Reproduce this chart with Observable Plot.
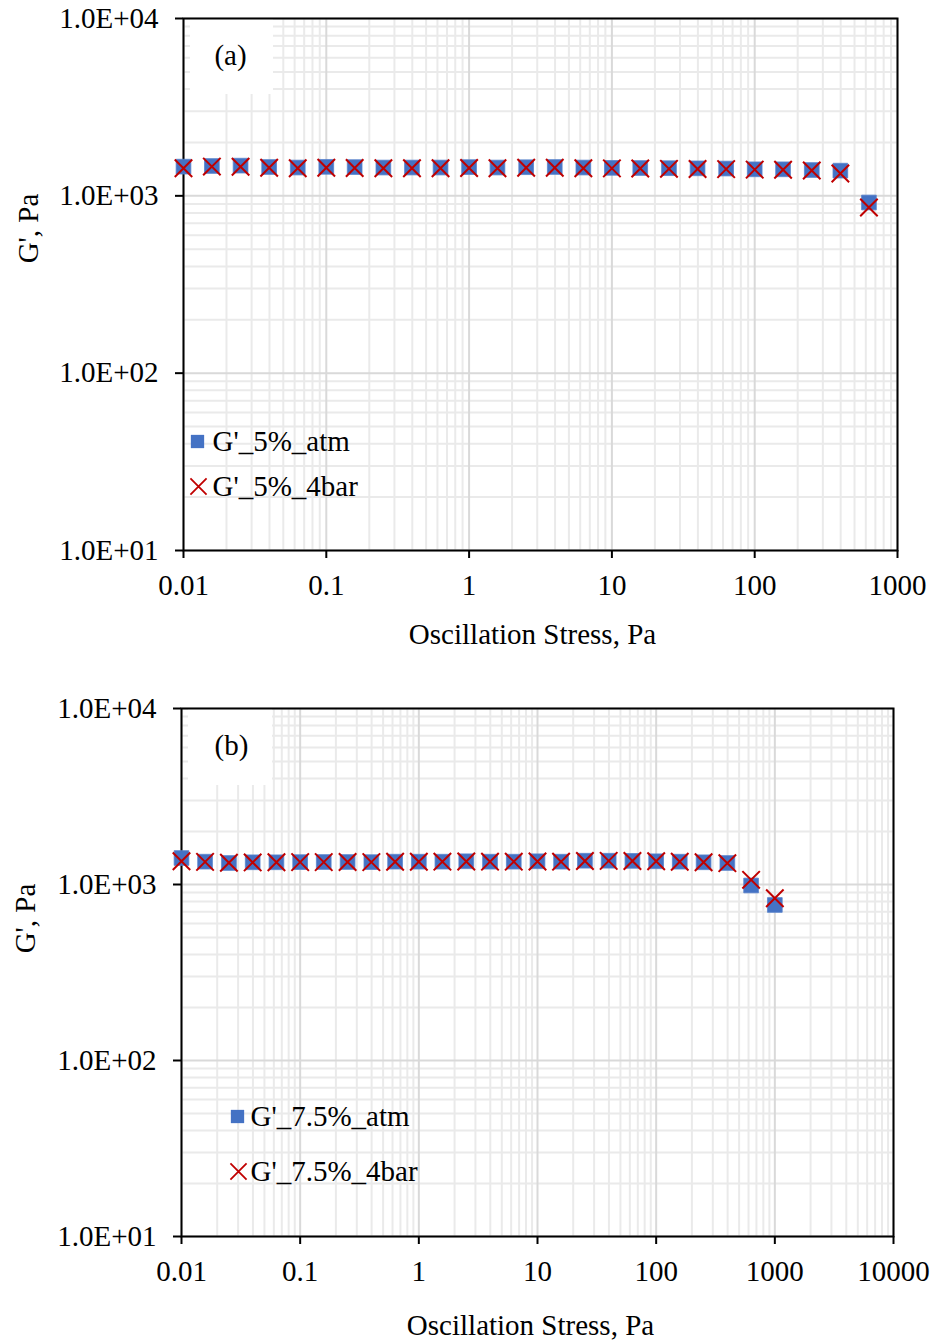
<!DOCTYPE html>
<html>
<head>
<meta charset="utf-8">
<script src="https://cdn.jsdelivr.net/npm/d3@7"></script>
<script src="https://cdn.jsdelivr.net/npm/@observablehq/plot@0.6"></script>
<style>
  html, body { margin: 0; padding: 0; background: white; }
  svg { display: block; }
</style>
</head>
<body>
<div id="chart"></div>
<script>
// ---- Data ----
const stressA = [0.01, 0.0158, 0.0251, 0.0398, 0.0631, 0.1, 0.158, 0.251, 0.398, 0.631, 1, 1.58, 2.51, 3.98, 6.31, 10, 15.8, 25.1, 39.8, 63.1, 100, 158, 251, 398, 631];
const gA_atm  = [1461, 1473, 1480, 1454, 1444, 1457, 1452, 1444, 1444, 1444, 1452, 1444, 1450, 1454, 1444, 1438, 1435, 1432, 1429, 1425, 1411, 1411, 1398, 1387, 917];
const gA_4bar = [1432, 1462, 1460, 1440, 1432, 1440, 1435, 1430, 1432, 1432, 1436, 1432, 1440, 1440, 1432, 1428, 1425, 1420, 1418, 1415, 1405, 1402, 1390, 1336, 859];

const stressB = [0.01, 0.0158, 0.0251, 0.0398, 0.0631, 0.1, 0.158, 0.251, 0.398, 0.631, 1, 1.58, 2.51, 3.98, 6.31, 10, 15.8, 25.1, 39.8, 63.1, 100, 158, 251, 398, 631, 1000];
const gB_atm  = [1414, 1348, 1325, 1337, 1337, 1340, 1342, 1342, 1340, 1348, 1348, 1348, 1355, 1348, 1348, 1355, 1348, 1365, 1365, 1362, 1355, 1348, 1337, 1325, 987, 765];
const gB_4bar = [1356, 1345, 1330, 1335, 1337, 1340, 1340, 1342, 1340, 1346, 1346, 1348, 1352, 1348, 1348, 1352, 1348, 1360, 1362, 1360, 1355, 1346, 1337, 1322, 1063, 836];

const xTicksA = [0.01, 0.1, 1, 10, 100, 1000];
const xTicksB = [0.01, 0.1, 1, 10, 100, 1000, 10000];
const yTicks = [10, 100, 1000, 10000];
const yTickLabels = ["1.0E+01", "1.0E+02", "1.0E+03", "1.0E+04"];
const xTitle = "Oscillation Stress, Pa";
const yTitle = "G', Pa";
const legendA = ["G'_5%_atm", "G'_5%_4bar"];
const legendB = ["G'_7.5%_atm", "G'_7.5%_4bar"];

// ---- Helpers ----
const BLUE = "#4472c4", RED = "#c00000";
const FONT = "'Liberation Serif', 'Times New Roman', serif";
function minors(majors) {
  const out = [];
  for (let i = 0; i < majors.length - 1; i++) for (let k = 2; k <= 9; k++) out.push(+(majors[i] * k).toPrecision(6));
  return out;
}
const yFmt = d => yTickLabels[yTicks.indexOf(d)];

function panel(cfg) {
  const atm = cfg.x.map((x, i) => ({x, y: cfg.atm[i]}));
  const bar = cfg.x.map((x, i) => ({x, y: cfg.bar[i]}));
  const box = cfg.box;
  return Plot.plot({
    width: 935, height: 670,
    marginLeft: cfg.ml, marginRight: cfg.mr, marginTop: cfg.mt, marginBottom: cfg.mb,
    x: {type: "log", domain: [cfg.xTicks[0], cfg.xTicks[cfg.xTicks.length - 1]], label: null},
    y: {type: "log", domain: [10, 10000], label: null},
    style: {fontFamily: FONT, fontSize: "29px", color: "black", background: "white"},
    marks: [
      Plot.ruleX(minors(cfg.xTicks), {stroke: "#eaeaea", strokeWidth: 2}),
      Plot.ruleY(minors(yTicks), {stroke: "#eaeaea", strokeWidth: 2}),
      Plot.ruleX(cfg.xTicks, {stroke: "#d9d9d9", strokeWidth: 2}),
      Plot.ruleY(yTicks, {stroke: "#d9d9d9", strokeWidth: 2}),
      (index, scales, values, dims) => {
        const r = document.createElementNS("http://www.w3.org/2000/svg", "rect");
        r.setAttribute("x", dims.marginLeft + box[0]);
        r.setAttribute("y", dims.marginTop + 1);
        r.setAttribute("width", box[1]);
        r.setAttribute("height", box[2]);
        r.setAttribute("fill", "white");
        return r;
      },
      Plot.frame({stroke: "black", strokeWidth: 2}),
      Plot.axisX(cfg.xTicks, {tickSize: 8, tickPadding: 16, strokeWidth: 2, tickFormat: d => String(d), label: null, fontSize: 29}),
      Plot.axisY(yTicks, {tickSize: 8, tickPadding: 17, strokeWidth: 2, tickFormat: yFmt, label: null, fontSize: 29}),
      Plot.dot(atm, {x: "x", y: "y", symbol: "square", r: 8.3, fill: BLUE, stroke: "#5b84cc", strokeWidth: 0.8}),
      Plot.dot(bar, {x: "x", y: "y", symbol: "times", r: 8.0, stroke: RED, strokeWidth: 2}),
      Plot.text([cfg.tag], {text: d => d, frameAnchor: "top-left", dx: cfg.tagPos[0], dy: cfg.tagPos[1], textAnchor: "middle", lineAnchor: "middle"}),
      Plot.text([xTitle], {text: d => d, frameAnchor: "bottom", dx: cfg.xt[0], dy: cfg.xt[1], lineAnchor: "middle"}),
      Plot.text([yTitle], {text: d => d, frameAnchor: "left", rotate: -90, dx: cfg.yt[0], dy: cfg.yt[1], textAnchor: "middle", lineAnchor: "middle"}),
      // legend
      Plot.dot([0], {frameAnchor: "top-left", dx: cfg.leg[0], dy: cfg.leg[1], symbol: "square", r: 7.5, fill: BLUE}),
      Plot.text([cfg.legend[0]], {text: d => d, frameAnchor: "top-left", dx: cfg.leg[0] + cfg.leg[3], dy: cfg.leg[1], textAnchor: "start", lineAnchor: "middle"}),
      Plot.dot([0], {frameAnchor: "top-left", dx: cfg.leg[0] + 1, dy: cfg.leg[2], symbol: "times", r: 7.4, stroke: RED, strokeWidth: 1.8}),
      Plot.text([cfg.legend[1]], {text: d => d, frameAnchor: "top-left", dx: cfg.leg[0] + cfg.leg[3], dy: cfg.leg[2], textAnchor: "start", lineAnchor: "middle"})
    ]
  });
}

const el = document.getElementById("chart");
el.append(panel({
  x: stressA, atm: gA_atm, bar: gA_4bar, xTicks: xTicksA,
  ml: 183, mr: 38, mt: 18, mb: 120,
  box: [7, 83, 75], tag: "(a)", tagPos: [47, 37],
  xt: [-8, 84], yt: [-155, -56],
  leg: [14, 423, 468, 15], legend: legendA
}));
el.append(panel({
  x: stressB, atm: gB_atm, bar: gB_4bar, xTicks: xTicksB,
  ml: 181, mr: 42, mt: 38, mb: 104,
  box: [7, 84, 76], tag: "(b)", tagPos: [50, 37],
  xt: [-7, 89], yt: [-156, -54],
  leg: [56, 408, 463, 13], legend: legendB
}));
</script>
</body>
</html>
